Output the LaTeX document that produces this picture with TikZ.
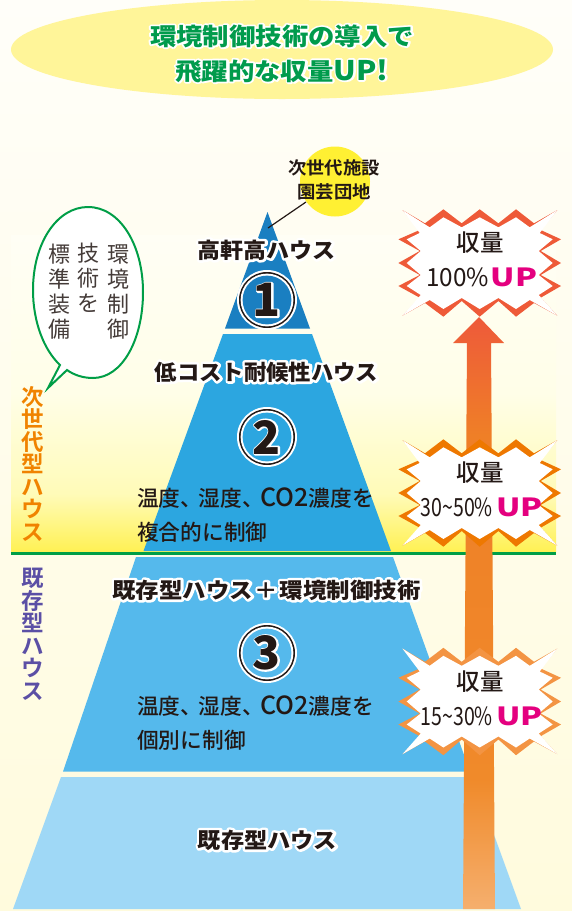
\documentclass[tikz,border=0pt]{standalone}
\usepackage{fontspec}
\usepackage{graphicx}
\setmainfont{Noto Sans CJK JP}[BoldFont={Noto Sans CJK JP Bold}]
\newfontfamily\heavyfont{Noto Sans CJK JP Black}
\newfontfamily\mediumfont{Noto Sans CJK JP Medium}
\definecolor{ink}{HTML}{231815}
\definecolor{titlegreen}{HTML}{009B4C}
\definecolor{linegreen}{HTML}{009E47}
\definecolor{titlefill}{HTML}{FFF599}
\definecolor{sun}{HTML}{FFF033}
\definecolor{tierA}{HTML}{1A7FC1}
\definecolor{tierB}{HTML}{2CA6E0}
\definecolor{tierC}{HTML}{55B9EC}
\definecolor{tierD}{HTML}{9FD8F6}
\definecolor{burstA}{HTML}{EE5A38}
\definecolor{burstB}{HTML}{EE7800}
\definecolor{burstC}{HTML}{F39443}
\definecolor{upink}{HTML}{E4007F}
\definecolor{nextgen}{HTML}{F08300}
\definecolor{current}{HTML}{5B4FA5}
\definecolor{bgtop}{HTML}{FFFEF9}
\definecolor{bgbot}{HTML}{FFFBDD}
\definecolor{bandA}{HTML}{FFFEF5}
\definecolor{bandB}{HTML}{FFFEE8}
\definecolor{bandC}{HTML}{FFFBB8}
\definecolor{bandD}{HTML}{FFF155}
\definecolor{arrA}{HTML}{EE5A3A}
\definecolor{arrB}{HTML}{EF7F27}
\definecolor{arrC}{HTML}{F08A2A}
\definecolor{arrD}{HTML}{F5AF6E}
% Vertical ramps; the visible part of an axis shading runs from 25bp to 75bp
\pgfdeclareverticalshading{arrowramp}{100bp}{color(0bp)=(arrD); color(25bp)=(arrD); color(36bp)=(arrC); color(65bp)=(arrB); color(75bp)=(arrA); color(100bp)=(arrA)}
\pgfdeclareverticalshading{bandramp}{100bp}{color(0bp)=(bandD); color(25bp)=(bandD); color(34bp)=(bandC); color(50bp)=(bandB); color(75bp)=(bandA); color(100bp)=(bandA)}
% Text with a round white outline behind it
\newcommand{\halotext}[2]{\leavevmode\rlap{\special{pdf:code q 2 Tr #1 w 1 1 1 RG 1 J 1 j}#2\special{pdf:code Q}}#2}
\newcommand{\fsz}[1]{\fontsize{#1}{#1}\selectfont}
% Starburst with an uneven border, placed around (#1) in colour #2
\newcommand{\burst}[2]{%
  \begin{scope}[shift={(#1)}]
    \fill[#2] (-77.3,-53)--(-54.7,-39.7)--(-36.3,-53.7)--(-18,-39.7)--(0,-53.7)--(18.7,-39.7)--(36.3,-53.7)--(54.3,-39.7)--(77.7,-53)--(61,-33)--(81.3,-23.7)--(61,-12)--(81.3,0)--(61,12)--(81.3,23)--(61,34.7)--(77.7,52.7)--(54.3,40)--(36.3,53.7)--(18.7,38)--(0,53.7)--(-18,38)--(-36.3,53.7)--(-54.7,40)--(-77.3,52.7)--(-60,34.7)--(-81.3,23)--(-60,12)--(-81.3,0)--(-60,-12)--(-81.3,-23.7)--(-60,-33)--cycle;
    \fill[white] (-77.3,-53)--(-50,-35.7)--(-36.3,-45.7)--(-18,-35.7)--(0,-45.7)--(18.7,-35.7)--(36.3,-45.7)--(50,-35.7)--(77.7,-53)--(60,-30)--(73,-23.7)--(59,-12)--(73,0)--(59,12)--(73,23)--(59,32)--(77.7,52.7)--(50,37)--(36.3,46)--(18.7,35)--(0,46)--(-18,35)--(-36.3,46)--(-50,37)--(-77.3,52.7)--(-59,32)--(-73,23)--(-59,12)--(-73,0)--(-59,-12)--(-73,-23.7)--(-60,-30)--cycle;
  \end{scope}}
% Numbered badge: white disc, black ring, white ring, tier colour
\newcommand{\badge}[3]{%
  \fill[white] (#1) circle (30);
  \fill[ink] (#1) circle (28);
  \fill[white] (#1) circle (26.4);
  \fill[#2] (#1) circle (24.4);
  \node[font=\heavyfont\fsz{46},text=ink,inner sep=0] (num#3) at (#1) {\halotext{3}{#3}};}
\tikzset{
  title/.style={font=\heavyfont\fsz{24},text=titlegreen,inner sep=0},
  houselabel/.style={font=\heavyfont\fsz{21.5},text=ink,inner sep=0},
  sublabel/.style={font=\mediumfont\fsz{21.7},text=ink,inner sep=0,anchor=west},
  burstlabel/.style={font=\mediumfont\fsz{23.5},text=ink,inner sep=0},
  burstfig/.style={font=\fsz{25},text=ink,inner sep=0},
  vert/.style={font=\bfseries\fsz{22.5},align=center,inner sep=0},
  calltext/.style={font=\fsz{22},text=ink!85,align=center,inner sep=0},
}
\newcommand{\UPword}{\scalebox{1.28}[1]{\textcolor{upink}{\heavyfont\fsz{25}UP}}}
% Closed-up ideographic comma and the larger Latin run of the descriptions
\newcommand{\tc}{、\kern-3.5pt\relax}
\newcommand{\cotwo}{{\fsz{25}CO2}}
\begin{document}
\begin{tikzpicture}[x=1pt,y=-1pt]
  \useasboundingbox (0,0) rectangle (572,911);
  % Background and the yellow band above the dividing line
  \shade[top color=bgtop,bottom color=bgbot] (0,0) rectangle (572,911);
  \path[shading=bandramp] (11,235) rectangle (556,551);
  % Title ellipse
  \fill[titlefill] (282,49.5) ellipse [x radius=271,y radius=49.5];
  \node[title] (t1) at (282,36) {\scalebox{1.1}[1]{\halotext{3.5}{環境制御技術の導入で}}};
  \node[title] (t2) at (282,71) {\scalebox{1.1}[1]{\halotext{3.5}{飛躍的な収量{\fsz{27}UP!}}}};
  % Pyramid tiers
  \fill[tierA] (267.5,212)--(310,328.5)--(225,328.5)--cycle;
  \fill[tierB] (223,334)--(312,334)--(391,551)--(143.5,551)--cycle;
  \fill[tierC] (136,557)--(393,557)--(470,771.5)--(63,771.5)--cycle;
  \fill[tierD] (61,777)--(473,777)--(521,909)--(13,909)--cycle;
  % Dividing line
  \draw[linegreen,line width=2.6] (11,553.5)--(556,553.5);
  % Yield arrow
  \path[shading=arrowramp] (479,317)--(504,343)--(491,343)--(495,909)--(463,909)--(467,343)--(453,343)--cycle;
  % Starbursts
  \burst{479.7,263}{burstA}
  \burst{479.7,493}{burstB}
  \burst{479.7,701.5}{burstC}
  \node[burstlabel] (b1a) at (480,243) {収量};
  \node[burstfig,anchor=east] (b1b) at (489,277) {\scalebox{0.97}[1]{100\%}};
  \node[inner sep=0,anchor=west] (b1c) at (490.5,277) {\UPword};
  \node[burstlabel] (b2a) at (480,473) {収量};
  \node[burstfig,anchor=east] (b2b) at (493,507) {\scalebox{0.78}[1]{30\textasciitilde50\%}};
  \node[inner sep=0,anchor=west] (b2c) at (496,507) {\UPword};
  \node[burstlabel] (b3a) at (480,682) {収量};
  \node[burstfig,anchor=east] (b3b) at (493,716) {\scalebox{0.78}[1]{15\textasciitilde30\%}};
  \node[inner sep=0,anchor=west] (b3c) at (496,716) {\UPword};
  % Facility callout at the apex
  \node[circle,fill=sun,minimum size=70,inner sep=0] (sunspot) at (335,181.5) {};
  \coordinate (apexpoint) at (268,228);
  \coordinate (leadstart) at (306,202);
  \draw[ink,line width=1.2] (leadstart)--(apexpoint);
  \node[font=\bfseries\fsz{17.5},text=ink,align=center,inner sep=0] (facility) at (334,180) {\scalebox{1.05}[1]{次世代施設}\\[6pt]\scalebox{1.05}[1]{園芸団地}};
  % Tier labels
  \node[houselabel] (h1) at (266.5,250) {\halotext{5}{\scalebox{1.07}[1]{高軒高ハウス}}};
  \node[houselabel] (h2) at (266.5,372) {\halotext{5}{\scalebox{1.04}[1]{低コスト耐候性ハウス}}};
  \node[houselabel] (h3) at (266.5,590) {\halotext{5}{\scalebox{1.09}[1]{既存型ハウス\kern1.5pt{\bfseries ＋}\kern1.5pt 環境制御技術}}};
  \node[houselabel] (h4) at (267.5,840) {\halotext{5}{\scalebox{1.08}[1]{既存型ハウス}}};
  % Numbered badges
  \badge{267,300}{tierA}{1}
  \badge{267,437}{tierB}{2}
  \badge{267,653}{tierC}{3}
  % Tier descriptions
  \node[sublabel] (s2a) at (137,498) {温度\tc 湿度\tc \cotwo 濃度を};
  \node[sublabel] (s2b) at (137,532) {複合的に制御};
  \node[sublabel] (s3a) at (137,706) {温度\tc 湿度\tc \cotwo 濃度を};
  \node[sublabel] (s3b) at (137,740) {個別に制御};
  % Speech balloon
  \draw[linegreen,fill=white,line width=2] (60,365) .. controls (44,350) and (33,322) .. (33,290)
    .. controls (33,243) and (57,207) .. (88,207)
    .. controls (120,207) and (143,245) .. (143,292)
    .. controls (143,340) and (122,378) .. (93,378)
    .. controls (83,378) and (74,375) .. (67,370) -- (48,388) -- cycle;
  \node[calltext] (c1) at (118,291.5) {環\\[3pt]境\\[3pt]制\\[3pt]御};
  \node[calltext] (c2) at (88,278) {技\\[3pt]術\\[3pt]を};
  \node[calltext] (c3) at (59,291.5) {標\\[3pt]準\\[3pt]装\\[3pt]備};
  % Vertical side labels
  \node[vert,text=nextgen] (v1) at (33,463.5) {次\\世\\代\\型\\ハ\\ウ\\ス};
  \node[vert,text=current] (v2) at (33,634.5) {既\\存\\型\\ハ\\ウ\\ス};
\end{tikzpicture}
\end{document}
